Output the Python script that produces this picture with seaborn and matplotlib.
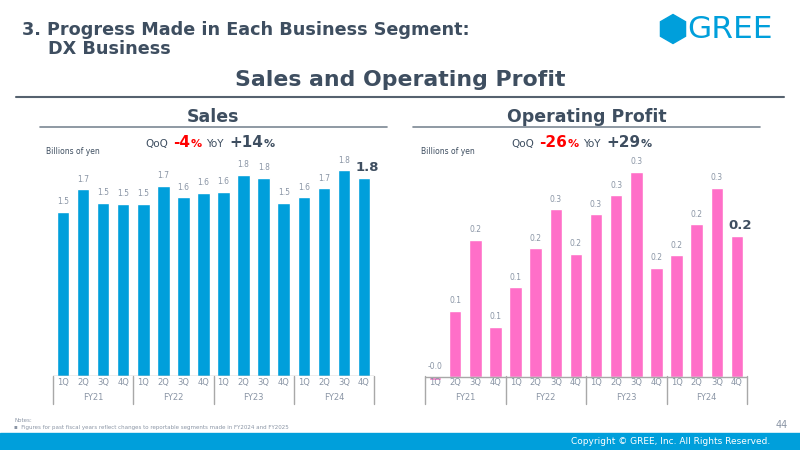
import numpy as np
import pandas as pd
import matplotlib
matplotlib.use("Agg")
import matplotlib.pyplot as plt
import seaborn as sns
from matplotlib.patches import RegularPolygon, Rectangle
from matplotlib.transforms import blended_transform_factory

# Data (billions of yen)
years = ["FY21", "FY22", "FY23", "FY24"]
quarters = ["1Q", "2Q", "3Q", "4Q"]
sales = [1.46, 1.66, 1.54, 1.53, 1.53, 1.69, 1.59, 1.63,
         1.64, 1.79, 1.76, 1.54, 1.59, 1.67, 1.83, 1.76]
op_profit = [-0.005, 0.105, 0.217, 0.079, 0.142, 0.204, 0.266, 0.195,
             0.258, 0.288, 0.325, 0.173, 0.193, 0.242, 0.300, 0.223]

periods = [f"{y} {q}" for y in years for q in quarters]
df = pd.DataFrame({"period": periods, "sales": sales, "op": op_profit})

sns.set_theme(style="white")
plt.rcParams["font.family"] = ["DejaVu Sans"]

DARK = "#3E4E60"
GREY = "#8A95A5"
BLUE = "#009FDB"
PINK = "#FF6FC8"
RED = "#FF0000"

fig = plt.figure(figsize=(8, 4.5), dpi=100)
W, H = 800, 450
renderer = fig.canvas.get_renderer()


def fx(px):
    return px / W


def fy(py):
    return 1 - py / H


# header
fig.text(fx(22), fy(30), "3. Progress Made in Each Business Segment:", fontsize=12.7,
         fontweight="bold", color=DARK, va="center", ha="left")
fig.text(fx(48), fy(49), "DX Business", fontsize=12.7, fontweight="bold",
         color=DARK, va="center", ha="left")
fig.patches.append(RegularPolygon((6.73, 4.5 - 0.29), numVertices=6, radius=0.145,
                                  orientation=0, transform=fig.dpi_scale_trans,
                                  color=BLUE, figure=fig))
fig.text(fx(687), fy(30), "GREE", fontsize=22.5, color=BLUE, va="center", ha="left")
fig.text(fx(400), fy(80), "Sales and Operating Profit", fontsize=15.8,
         fontweight="bold", color=DARK, va="center", ha="center")
fig.add_artist(plt.Line2D([fx(16), fx(784)], [fy(97), fy(97)], color="#56626F", lw=1.5))

# footer
fig.patches.append(Rectangle((0, 0), 1, fy(433), transform=fig.transFigure,
                             color=BLUE, figure=fig))
fig.text(fx(770), fy(442), "Copyright \u00a9 GREE, Inc. All Rights Reserved.", fontsize=6.5,
         color="white", va="center", ha="right")
fig.text(fx(788), fy(425), "44", fontsize=7, color=GREY, va="center", ha="right")
fig.text(fx(14), fy(421), "Notes:", fontsize=4, color=GREY, va="center")
fig.text(fx(14), fy(428), "\u25aa  Figures for past fiscal years reflect changes to reportable segments made in FY2024 and FY2025",
         fontsize=4, color=GREY, va="center")


def header_pieces(pieces, x0, y):
    # lay out mixed-style text pieces one after another
    x = x0
    for txt, size, color, weight, gap in pieces:
        t = fig.text(fx(x), fy(y), txt, fontsize=size, color=color, fontweight=weight,
                     va="baseline", ha="left")
        bb = t.get_window_extent(renderer)
        x += bb.width + gap


def panel(col, color, left, right, bottom, top, ylim, title, tcenter, tline, qx, ylab_x):
    ax = fig.add_axes([fx(left), fy(bottom), fx(right) - fx(left), (bottom - top) / H])
    sns.barplot(data=df, x="period", y=col, color=color, width=0.62,
                saturation=1, ax=ax)
    ax.set_xlim(-0.5, 15.5)
    ax.set_ylim(*ylim)
    ax.axis("off")
    ax.axhline(0, color="#A8A8A8", lw=1, xmin=0, xmax=1)

    vals = df[col].tolist()
    for i, v in enumerate(vals):
        last = i == len(vals) - 1
        ax.annotate(f"{v:.1f}", (i + (0.15 if last else 0), max(v, 0)),
                    xytext=(0, 4 if not last else 3), textcoords="offset points",
                    ha="center", va="bottom",
                    fontsize=9.5 if last else 5.5,
                    fontweight="bold" if last else "normal",
                    color=DARK if last else GREY)

    tr = blended_transform_factory(ax.transData, fig.transFigure)
    for i in range(16):
        ax.text(i, fy(383), quarters[i % 4], transform=tr, ha="center", va="center",
                fontsize=6, color=GREY)
    for k, yname in enumerate(years):
        ax.text(4 * k + 1.5, fy(397), yname, transform=tr, ha="center", va="center",
                fontsize=6, color=GREY)
    for xs in [-0.5, 3.5, 7.5, 11.5, 15.5]:
        ax.plot([xs, xs], [fy(376), fy(404)], transform=tr, color="#A8A8A8",
                lw=1, clip_on=False)

    fig.text(fx(tcenter), fy(117), title, fontsize=12.5, fontweight="bold",
             color=DARK, ha="center", va="center")
    fig.add_artist(plt.Line2D([fx(tline[0]), fx(tline[1])], [fy(127), fy(127)],
                              color="#7C8793", lw=1.2))
    fig.text(fx(ylab_x), fy(151), "Billions of yen", fontsize=5.5, color=DARK,
             va="center", ha="left")
    return ax, qx


def qoq_yoy(x0, qoq, yoy):
    header_pieces([("QoQ", 7.5, DARK, "normal", 5),
                   (qoq, 11, RED, "bold", 0.5),
                   ("%", 8, RED, "bold", 5),
                   ("YoY", 7.5, DARK, "normal", 5),
                   (yoy, 11, DARK, "bold", 0.5),
                   ("%", 8, DARK, "bold", 0)], x0, 147)


panel("sales", BLUE, 53, 374, 376, 160, (0, 1.92), "Sales", 213, (40, 387), 145, 46)
qoq_yoy(145, "-4", "+14")

panel("op", PINK, 425, 747, 385, 160, (-0.0132, 0.344), "Operating Profit", 587,
      (413, 760), 512, 421)
qoq_yoy(511, "-26", "+29")

fig.savefig("out.png", dpi=100)
